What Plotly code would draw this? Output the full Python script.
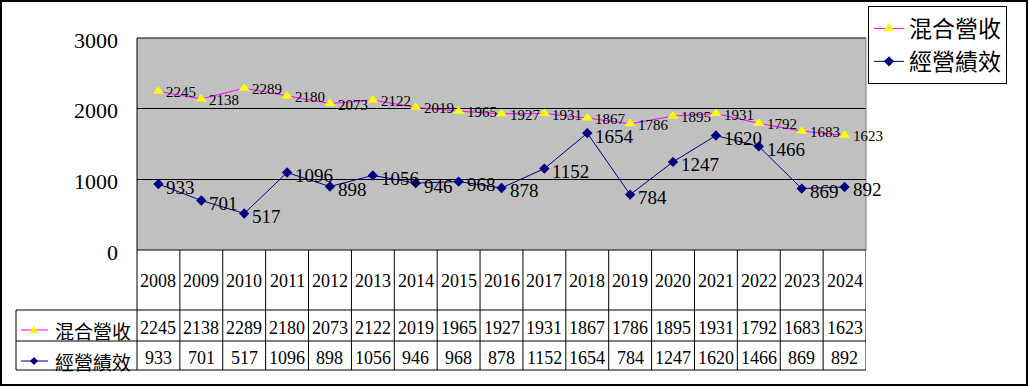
import plotly.graph_objects as go

years = ["2008", "2009", "2010", "2011", "2012", "2013", "2014", "2015", "2016",
         "2017", "2018", "2019", "2020", "2021", "2022", "2023", "2024"]
mixed_revenue = [2245, 2138, 2289, 2180, 2073, 2122, 2019, 1965, 1927, 1931, 1867,
                 1786, 1895, 1931, 1792, 1683, 1623]
performance = [933, 701, 517, 1096, 898, 1056, 946, 968, 878, 1152, 1654, 784,
               1247, 1620, 1466, 869, 892]
series_names = ["混合營收", "經營績效"]
y_ticks = [0, 1000, 2000, 3000]

W, H = 1029, 386
PX_L, PX_R, PX_T, PX_B = 137, 866, 38, 250
ROW_Y = [250, 310, 341, 370]
TABLE_L = 16

def px(x):
    return x / W

def py(y):
    return 1 - y / H

SERIF = "Liberation Serif, Times New Roman, serif"
CJK = "Noto Sans CJK TC, sans-serif"
MAG = "#FF00FF"
NAVY = "#000080"

n = len(years)
xs = list(range(n))

fig = go.Figure()
fig.add_trace(go.Scatter(
    x=xs, y=mixed_revenue, name=series_names[0], mode="lines+markers",
    line=dict(color=MAG, width=1),
    marker=dict(symbol="triangle-up", size=10, color="#FFFF00",
                line=dict(color="#000000", width=0)),
    cliponaxis=False,
))
fig.add_trace(go.Scatter(
    x=xs, y=performance, name=series_names[1], mode="lines+markers",
    line=dict(color=NAVY, width=1),
    marker=dict(symbol="diamond", size=8, color=NAVY),
    cliponaxis=False,
))

shapes = []
ann = []
# data labels anchored to the data points
for i in range(n):
    ann.append(dict(x=i, y=mixed_revenue[i], xref="x", yref="y", text=str(mixed_revenue[i]),
                    showarrow=False, xanchor="left", yanchor="middle", xshift=6, yshift=-1,
                    font=dict(family=SERIF, size=15, color="#000")))
    ann.append(dict(x=i, y=performance[i], xref="x", yref="y", text=str(performance[i]),
                    showarrow=False, xanchor="left", yanchor="middle", xshift=6, yshift=-3,
                    font=dict(family=SERIF, size=19, color="#000")))

# outer border
shapes.append(dict(type="rect", xref="paper", yref="paper", x0=px(1), x1=px(1027),
                   y0=py(385), y1=py(1), line=dict(color="#000", width=2)))
# plot area borders
shapes.append(dict(type="line", xref="paper", yref="paper", x0=px(PX_L), x1=px(PX_R),
                   y0=py(PX_T), y1=py(PX_T), line=dict(color="#000", width=1)))
shapes.append(dict(type="line", xref="paper", yref="paper", x0=px(PX_L), x1=px(PX_L),
                   y0=py(PX_T), y1=py(ROW_Y[-1]), line=dict(color="#000", width=1)))
shapes.append(dict(type="line", xref="paper", yref="paper", x0=px(PX_R), x1=px(PX_R),
                   y0=py(PX_T), y1=py(PX_B), line=dict(color="#808080", width=1)))
# table vertical lines at category boundaries
for i in range(1, n + 1):
    shapes.append(dict(type="line", xref="x", yref="paper", x0=i - 0.5, x1=i - 0.5,
                       y0=py(ROW_Y[0]), y1=py(ROW_Y[-1]), line=dict(color="#000", width=1)))
# table horizontal lines
shapes.append(dict(type="line", xref="paper", yref="paper", x0=px(PX_L), x1=px(PX_R),
                   y0=py(ROW_Y[0]), y1=py(ROW_Y[0]), line=dict(color="#000", width=1)))
for ry in ROW_Y[1:]:
    shapes.append(dict(type="line", xref="paper", yref="paper", x0=px(TABLE_L), x1=px(PX_R),
                       y0=py(ry), y1=py(ry), line=dict(color="#000", width=1)))
shapes.append(dict(type="line", xref="paper", yref="paper", x0=px(TABLE_L), x1=px(TABLE_L),
                   y0=py(ROW_Y[1]), y1=py(ROW_Y[-1]), line=dict(color="#000", width=1)))

# table legend keys
k1y, k2y = 330, 361
shapes.append(dict(type="line", xref="paper", yref="paper", x0=px(21), x1=px(48),
                   y0=py(k1y), y1=py(k1y), line=dict(color=MAG, width=1)))
shapes.append(dict(type="path", xref="paper", yref="paper",
                   path=f"M {px(30)} {py(k1y+3)} L {px(38)} {py(k1y+3)} L {px(34)} {py(k1y-5)} Z",
                   fillcolor="#FFFF00", line=dict(width=0)))
shapes.append(dict(type="line", xref="paper", yref="paper", x0=px(21), x1=px(48),
                   y0=py(k2y), y1=py(k2y), line=dict(color=NAVY, width=1)))
shapes.append(dict(type="path", xref="paper", yref="paper",
                   path=f"M {px(30)} {py(k2y)} L {px(34)} {py(k2y-4)} L {px(38)} {py(k2y)} L {px(34)} {py(k2y+4)} Z",
                   fillcolor=NAVY, line=dict(width=0)))
ann.append(dict(x=px(53), y=py(k1y), xref="paper", yref="paper", text=series_names[0],
                showarrow=False, xanchor="left", yanchor="middle",
                font=dict(family=CJK, size=19, color="#000")))
ann.append(dict(x=px(53), y=py(k2y), xref="paper", yref="paper", text=series_names[1],
                showarrow=False, xanchor="left", yanchor="middle",
                font=dict(family=CJK, size=19, color="#000")))

for i in range(n):
    ann.append(dict(x=i, y=py(281), xref="x", yref="paper", text=years[i], showarrow=False,
                    yanchor="middle", font=dict(family=SERIF, size=18, color="#000")))
    ann.append(dict(x=i, y=py(328), xref="x", yref="paper", text=str(mixed_revenue[i]),
                    showarrow=False, yanchor="middle", font=dict(family=SERIF, size=18, color="#000")))
    ann.append(dict(x=i, y=py(358), xref="x", yref="paper", text=str(performance[i]),
                    showarrow=False, yanchor="middle", font=dict(family=SERIF, size=18, color="#000")))

fig.update_layout(
    width=W, height=H, margin=dict(l=0, r=0, t=0, b=0, autoexpand=False),
    paper_bgcolor="#FFFFFF", plot_bgcolor="#C0C0C0",
    showlegend=True,
    legend=dict(x=px(868), y=py(6), xanchor="left", yanchor="top",
                bordercolor="#000", borderwidth=1, bgcolor="#FFFFFF",
                font=dict(family=CJK, size=23, color="#000"),
                itemwidth=30, tracegroupgap=0),
    xaxis=dict(domain=[px(PX_L), px(PX_R)], range=[-0.5, n - 0.5], automargin=False,
               showticklabels=False, showgrid=False, zeroline=False, ticks=""),
    yaxis=dict(domain=[py(PX_B), py(PX_T)], range=[0, 3000], tickvals=y_ticks,
               ticktext=[str(v) for v in y_ticks], automargin=False,
               showgrid=True, gridcolor="#000000", gridwidth=1, zeroline=False,
               tickfont=dict(family=SERIF, size=22, color="#000"),
               ticklabelstandoff=18, ticklabelshift=2, ticks=""),
    shapes=shapes, annotations=ann,
)

fig.write_html("out.html", config={"displayModeBar": False},
               post_script="document.body.style.margin='0';document.body.style.overflow='hidden';")
